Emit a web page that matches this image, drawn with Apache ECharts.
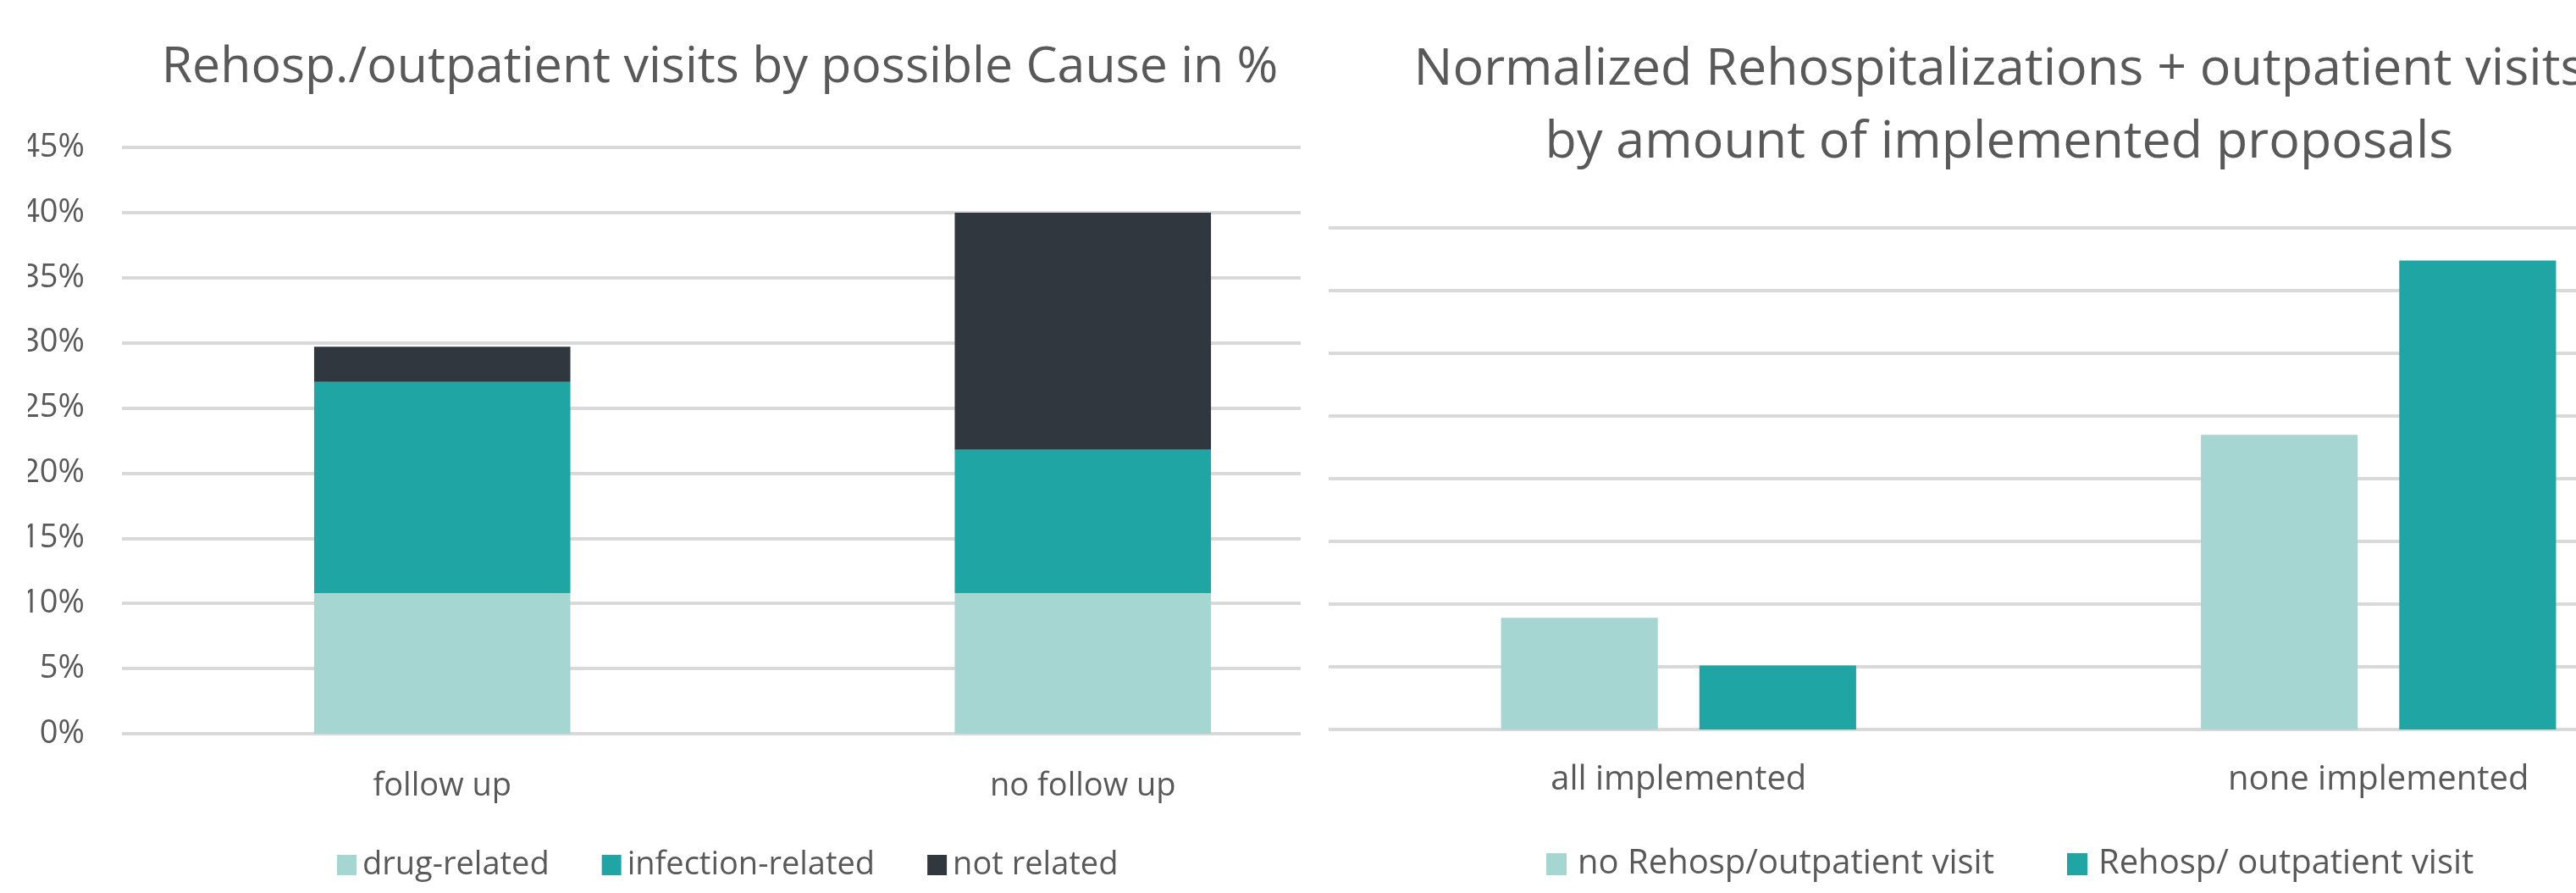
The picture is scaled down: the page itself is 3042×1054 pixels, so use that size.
<!DOCTYPE html>
<html>
<head>
<meta charset="utf-8">
<script src="https://cdn.jsdelivr.net/npm/echarts@6/dist/echarts.min.js"></script>
<style>
html,body{margin:0;padding:0;background:#fff;width:3042px;height:1054px;overflow:hidden}
#left{position:absolute;left:0;top:0;width:1700px;height:1054px}
#right{position:absolute;left:1536px;top:0;width:1506px;height:1054px;background:#fff}
</style>
</head>
<body>
<div id="left"></div>
<div id="right"></div>
<script>
// ---- Left chart data ----
const leftTitle = 'Rehosp./outpatient visits by possible Cause in %';
const leftCategories = ['follow up', 'no follow up'];
const leftSeriesNames = ['drug-related', 'infection-related', 'not related'];
const drugRelated = [10.8, 10.8];
const infectionRelated = [16.2, 11.0];
const notRelated = [2.7, 18.2];
const leftYMax = 45;
const leftYStep = 5;

// ---- Right chart data ----
const rightTitle = 'Normalized Rehospitalizations + outpatient visits\nby amount of implemented proposals';
const rightCategories = ['all implemented', 'none implemented'];
const rightSeriesNames = ['no Rehosp/outpatient visit', 'Rehosp/ outpatient visit'];
const noRehosp = [8.9, 23.5];
const rehosp = [5.1, 37.4];
const rightYMax = 40;
const rightYStep = 5;

const FONT = '"Open Sans", "Noto Sans", sans-serif';
const TXT = '#595959';
const GRIDC = '#d9d9d9';
const cLight = '#a6d6d1';
const cTeal = '#20a5a5';
const cDark = '#30373e';

const leftChart = echarts.init(document.getElementById('left'), null, {renderer: 'canvas'});
leftChart.setOption({
  animation: false,
  textStyle: {fontFamily: FONT},
  grid: {left: 144, top: 174, width: 1513, height: 692, outerBoundsMode: 'none', containLabel: false},
  xAxis: {
    type: 'category', data: leftCategories,
    axisLine: {show: false}, axisTick: {show: false},
    axisLabel: {color: TXT, fontSize: 38, fontFamily: FONT, margin: 43}
  },
  yAxis: {
    type: 'value', min: 0, max: leftYMax, interval: leftYStep,
    axisLine: {show: false}, axisTick: {show: false},
    axisLabel: {formatter: '{value}%', color: TXT, fontSize: 38, fontFamily: FONT, margin: 44},
    splitLine: {lineStyle: {color: GRIDC, width: 4}}
  },
  legend: {
    left: 393, top: 997, itemWidth: 23, itemHeight: 24, itemGap: 62, icon: 'rect',
    textStyle: {fontSize: 38, color: TXT, fontFamily: FONT, padding: [0, 0, 0, 2]},
    data: leftSeriesNames
  },
  series: [
    {name: leftSeriesNames[0], type: 'bar', stack: 'a', data: drugRelated, barWidth: '40%', itemStyle: {color: cLight}},
    {name: leftSeriesNames[1], type: 'bar', stack: 'a', data: infectionRelated, barWidth: '40%', itemStyle: {color: cTeal}},
    {name: leftSeriesNames[2], type: 'bar', stack: 'a', data: notRelated, barWidth: '40%', itemStyle: {color: cDark}}
  ],
  graphic: [
    {type: 'text', x: 850, y: 80, z: 50,
     style: {text: leftTitle, fill: TXT, fontSize: 59, fontFamily: FONT, align: 'center', verticalAlign: 'middle'}},
    {type: 'rect', shape: {x: 0, y: 140, width: 33, height: 760}, style: {fill: '#fff'}, z: 100}
  ]
});

const rightChart = echarts.init(document.getElementById('right'), null, {renderer: 'canvas'});
rightChart.setOption({
  animation: false,
  backgroundColor: '#fff',
  textStyle: {fontFamily: FONT},
  grid: {left: 33, top: 269, width: 1653, height: 592, outerBoundsMode: 'none', containLabel: false},
  xAxis: {
    type: 'category', data: rightCategories,
    axisLine: {show: false}, axisTick: {show: false},
    axisLabel: {color: TXT, fontSize: 40, fontFamily: FONT, margin: 40}
  },
  yAxis: {
    type: 'value', min: 0, max: rightYMax, interval: rightYStep,
    axisLine: {show: false}, axisTick: {show: false},
    axisLabel: {show: false},
    splitLine: {lineStyle: {color: GRIDC, width: 4}}
  },
  legend: {
    left: 285, top: 995, itemWidth: 24, itemHeight: 26, itemGap: 86, icon: 'rect',
    textStyle: {fontSize: 40, color: TXT, fontFamily: FONT, padding: [0, 0, 0, 8]},
    data: rightSeriesNames
  },
  series: [
    {name: rightSeriesNames[0], type: 'bar', data: noRehosp, barWidth: '22.4%', barGap: '26.5%', itemStyle: {color: cLight}},
    {name: rightSeriesNames[1], type: 'bar', data: rehosp, barWidth: '22.4%', barGap: '26.5%', itemStyle: {color: cTeal}}
  ],
  graphic: [
    {type: 'text', x: 825, y: 126, z: 50,
     style: {text: rightTitle, fill: TXT, fontSize: 61, lineHeight: 86, fontFamily: FONT, align: 'center', verticalAlign: 'middle'}}
  ]
});
</script>
</body>
</html>
